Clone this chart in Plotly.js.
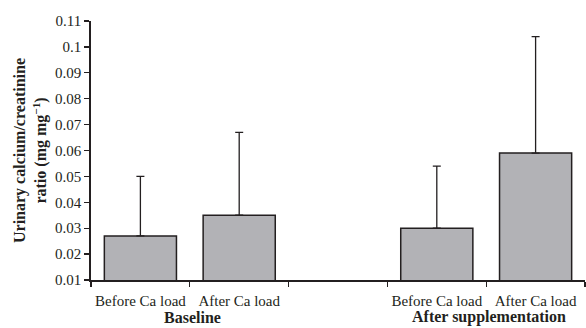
<!DOCTYPE html>
<html>
<head>
<meta charset="utf-8">
<script src="https://cdn.plot.ly/plotly-3.0.1.min.js"></script>
<style>html,body{margin:0;padding:0;background:#fff;}#chart{width:586px;height:328px;}</style>
</head>
<body>
<div id="chart"></div>
<script>
// Data
var positions = [0, 1, 3, 4];
var categoryLabels = ["Before Ca load", "After Ca load", "Before Ca load", "After Ca load"];
var groupLabels = ["Baseline", "After supplementation"];
var groupCenters = [0.5, 3.5];
var means = [0.027, 0.035, 0.030, 0.059];
var sdUpper = [0.023, 0.032, 0.024, 0.045];
var yTickVals = [0.01, 0.02, 0.03, 0.04, 0.05, 0.06, 0.07, 0.08, 0.09, 0.1, 0.11];
var yTickText = ["0.01", "0.02", "0.03", "0.04", "0.05", "0.06", "0.07", "0.08", "0.09", "0.1", "0.11"];
var boundaries = [-0.5, 0.5, 1.5, 2.5, 3.5, 4.5];

var fontFam = "Times New Roman, Liberation Serif, DejaVu Serif, serif";
var ink = "#231f20";

var trace = {
  type: "bar",
  x: positions,
  y: means,
  width: 0.73,
  marker: {color: "#b2b2b6", line: {color: ink, width: 1.5}},
  error_y: {type: "data", symmetric: false, array: sdUpper, arrayminus: [0,0,0,0],
            color: ink, thickness: 1.3, width: 4},
  hoverinfo: "none"
};

var annotations = groupLabels.map(function (g, i) {
  return {text: "<b>" + g + "</b>", x: groupCenters[i], xref: "x", y: 0, yref: "paper",
          yshift: -37, xshift: 3, yanchor: "middle", xanchor: "center", showarrow: false,
          font: {family: fontFam, size: 16, color: ink}};
});

var layout = {
  width: 586, height: 328,
  margin: {l: 91, r: 1, t: 21, b: 48},
  paper_bgcolor: "#fff", plot_bgcolor: "#fff",
  showlegend: false,
  font: {family: fontFam, size: 15, color: ink},
  xaxis: {
    range: [-0.5, 4.5],
    tickmode: "array", tickvals: positions, ticktext: categoryLabels,
    ticks: "outside", ticklen: 6, tickcolor: "rgba(0,0,0,0)",
    minor: {tickmode: "array", tickvals: boundaries, ticks: "outside", ticklen: 5, tickwidth: 1.3, tickcolor: ink, showgrid: false},
    showline: true, linecolor: ink, linewidth: 1.8,
    showgrid: false, zeroline: false,
    tickfont: {family: fontFam, size: 15, color: ink}
  },
  yaxis: {
    range: [0.01, 0.11],
    tickmode: "array", tickvals: yTickVals, ticktext: yTickText,
    ticks: "outside", ticklen: 5, tickwidth: 1.3, tickcolor: ink,
    showline: true, linecolor: ink, linewidth: 1.8,
    showgrid: false, zeroline: false,
    tickfont: {family: fontFam, size: 15, color: ink},
    title: {text: "<b>Urinary calcium/creatinine<br>ratio (mg mg<sup>−1</sup>)</b>",
            font: {family: fontFam, size: 16, color: ink}, standoff: 4}
  },
  annotations: annotations
};

Plotly.newPlot("chart", [trace], layout, {staticPlot: true, displayModeBar: false});
</script>
</body>
</html>
